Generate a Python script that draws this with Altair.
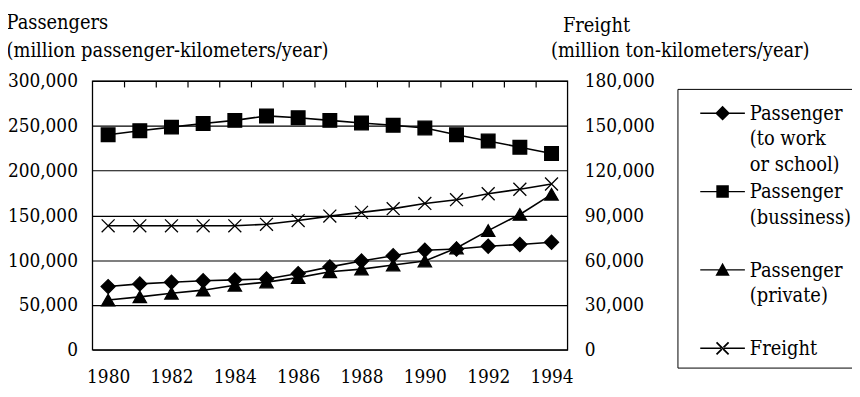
import altair as alt
import pandas as pd

years = list(range(1980, 1995))
work = [70500, 73500, 75300, 77000, 78000, 79000, 85000, 92500, 99000, 105000,
        111000, 112500, 115500, 117500, 120000]
business = [240000, 244500, 248500, 252500, 256000, 261000, 259000, 256000, 253000, 250500,
            247500, 240000, 233000, 226000, 219000]
private = [55500, 59000, 63000, 66500, 72000, 75500, 80500, 87000, 90000, 94500,
           99000, 113500, 133000, 151000, 173500]
freight = [83000, 83000, 83000, 83000, 83000, 84000, 86500, 89500, 92000, 94500,
           98000, 100500, 104500, 107500, 111000]

labels = ["Passenger|(to work|or school)", "Passenger|(bussiness)|", "Passenger|(private)|", "Freight"]
sides = ["L", "L", "L", "R"]
x_label_values = [1980, 1982, 1984, 1986, 1988, 1990, 1992, 1994]
x_tick_values = [y + 0.5 for y in range(1980, 1994)]
left_values = [0, 50000, 100000, 150000, 200000, 250000, 300000]
right_values = [0, 30000, 60000, 90000, 120000, 150000, 180000]

rows = []
for name, vals, side in zip(labels, [work, business, private, freight], sides):
    for yr, v in zip(years, vals):
        rows.append({"year": yr, "series": name, "value": v, "side": side})
df = pd.DataFrame(rows)

FONT = "DejaVu Serif Condensed, DejaVu Serif"
xscale = alt.Scale(domain=[1979.5, 1994.5], nice=False, zero=False)

ttl = dict(titleAngle=0, titleAlign="left", titleBaseline="alphabetic")

x_lab = alt.X("year:Q", scale=xscale,
              axis=alt.Axis(values=x_label_values, format="d", ticks=False, domain=False,
                            grid=False, labelPadding=18,
                            title="(million ton-kilometers/year)",
                            titleX=462, titleY=-296, **ttl))
x_tick = alt.X("year:Q", scale=xscale,
               axis=alt.Axis(values=x_tick_values, labels=False, domain=False, grid=False,
                             ticks=True, tickSize=6, offset=-6, tickColor="black",
                             tickWidth=1.2, title=None))

shape_range = ["diamond", "square", "triangle-up", "M-1,-1L1,1M-1,1L1,-1"]
size_range = [200, 170, 220, 150]
shape_enc = alt.Shape("series:N", scale=alt.Scale(domain=labels, range=shape_range), legend=None)
size_enc = alt.Size("series:N", scale=alt.Scale(domain=labels, range=size_range), legend=None)

yL = alt.Y("value:Q", scale=alt.Scale(domain=[0, 300000], nice=False),
           axis=alt.Axis(values=left_values, format=",d", orient="left",
                         title=["Passengers", "(million passenger-kilometers/year)"],
                         titleX=-87, titleY=-53, titleLineHeight=28, **ttl,
                         grid=True, gridColor="black", gridWidth=1.2, gridOpacity=1,
                         domain=False, ticks=False, labelPadding=15))
yR = alt.Y("value:Q", scale=alt.Scale(domain=[0, 180000], nice=False),
           axis=alt.Axis(values=right_values, format=",d", orient="right",
                         title="Freight", titleX=-5, titleY=-50, **ttl,
                         grid=False, domain=False, ticks=False, labelPadding=17))

base = alt.Chart(df)
pt = dict(filled=True, fill="black", stroke="black", strokeWidth=1.3, opacity=1)

left = alt.layer(
    base.mark_line(color="black", strokeWidth=1.6).encode(x=x_lab, y=yL, detail="series:N"),
    base.mark_point(**pt).encode(x=x_lab, y=yL, shape=shape_enc, size=size_enc),
).transform_filter(alt.datum.side == "L")

right = alt.layer(
    base.mark_line(color="black", strokeWidth=1.6).encode(x=x_tick, y=yR, detail="series:N"),
    base.mark_point(**pt).encode(x=x_tick, y=yR, shape=shape_enc, size=size_enc),
).transform_filter(alt.datum.side == "R")

LINE = "M-1,-0.34H1V-0.28H-1Z"
legend_paths = [
    LINE + "M0,-0.64L0.33,-0.31L0,0.02L-0.33,-0.31Z",
    LINE + "M-0.28,-0.59H0.28V-0.03H-0.28Z",
    LINE + "M0,-0.63L0.32,-0.05H-0.32Z",
    LINE + "M-0.242,-0.608L0.298,-0.068L0.242,-0.012L-0.298,-0.552Z"
           "M-0.242,-0.012L0.298,-0.552L0.242,-0.608L-0.298,-0.068Z",
]
legend_layer = base.transform_filter("false").mark_point(
    filled=True, fill="black", size=2025, opacity=1
).encode(
    shape=alt.Shape("series:N", scale=alt.Scale(domain=labels, range=legend_paths),
                    legend=alt.Legend(title=None, orient="none", legendX=590, legendY=8,
                                      labelExpr="split(datum.label, '|')",
                                      labelBaseline="alphabetic", labelOffset=4,
                                      symbolOffset=14, rowPadding=0, symbolSize=2025,
                                      symbolFillColor="black",
                                      padding=8, strokeColor="black", labelLimit=300))
)

chart = alt.layer(left, right, legend_layer).resolve_scale(
    y="independent", shape="independent", size="independent"
).resolve_axis(x="independent").properties(
    width=479, height=271,
    padding={"left": 85, "top": 72, "right": 287, "bottom": 37},
    autosize=alt.AutoSizeParams(type="none"),
).configure(
    style={"guide-label": {"lineHeight": 25.5}}
).configure_view(stroke="black", strokeWidth=1.3).configure_axis(
    labelFont=FONT, labelFontSize=19, labelColor="black",
    titleFont=FONT, titleFontSize=20, titleFontWeight="normal", titleColor="black",
).configure_legend(
    labelFont=FONT, labelFontSize=20, labelColor="black",
)

chart.save("out.html", embed_options={"renderer": "svg", "actions": False})
